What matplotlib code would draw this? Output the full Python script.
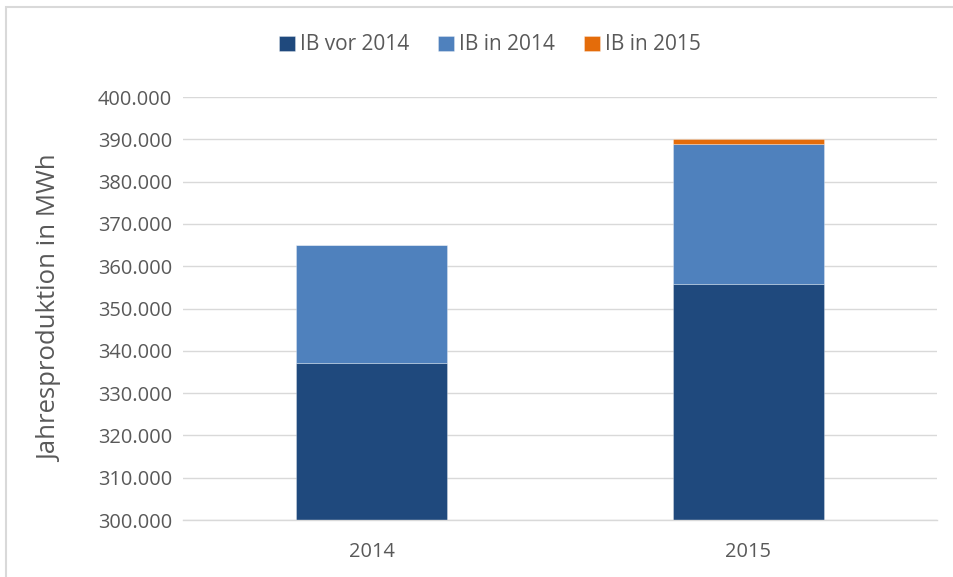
import matplotlib
matplotlib.use("Agg")
import matplotlib.pyplot as plt
from matplotlib.patches import Rectangle
import numpy as np

categories = ["2014", "2015"]
ib_vor_2014 = [337000, 355800]
ib_in_2014 = [28000, 33000]
ib_in_2015 = [0, 1200]
series_names = ["IB vor 2014", "IB in 2014", "IB in 2015"]
colors = ["#1F497D", "#4F81BD", "#E46C0A"]
yticks = list(range(300000, 400001, 10000))
ytick_labels = [f"{v:,}".replace(",", ".") for v in yticks]

plt.rcParams['font.family'] = ['Open Sans', 'DejaVu Sans']
txt = "#595959"

fig = plt.figure(figsize=(9.54, 5.77), dpi=100)
ax = fig.add_axes([183/954, 1-520/577, (937-183)/954, (520-97)/577])

x = np.arange(len(categories))
bottoms = [np.zeros(2), np.array(ib_vor_2014, float), np.array(ib_vor_2014, float) + np.array(ib_in_2014, float)]
for vals, b, c, n in zip([ib_vor_2014, ib_in_2014, ib_in_2015], bottoms, colors, series_names):
    ax.bar(x, vals, bottom=b, width=0.4, color=c, label=n, zorder=3,
           edgecolor=(1, 1, 1, 0.35), linewidth=0.6)

ax.set_xlim(-0.5, 1.5)
ax.set_ylim(300000, 400000)
ax.set_yticks(yticks)
ax.set_yticklabels(ytick_labels)
ax.set_xticks(x)
ax.set_xticklabels(categories)
ax.tick_params(axis='both', length=0, colors=txt, labelsize=14.4)
ax.tick_params(axis='y', pad=8)
ax.tick_params(axis='x', pad=16)
ax.grid(axis='y', color="#D9D9D9", linewidth=1, zorder=0)
for s in ["top", "right", "left"]:
    ax.spines[s].set_visible(False)
ax.spines["bottom"].set_color("#D9D9D9")
ax.spines["bottom"].set_linewidth(1)
ax.spines["bottom"].set_zorder(4)

ax.set_ylabel("Jahresproduktion in MWh", color=txt, fontsize=18.5, labelpad=25)

leg = fig.legend(loc="center", bbox_to_anchor=(490/954, 1-45/577), ncol=3, frameon=False,
                 fontsize=15, handlelength=0.75, handleheight=0.75, handletextpad=0.25,
                 columnspacing=1.4)
for t in leg.get_texts():
    t.set_color(txt)

fig.patches.append(Rectangle((6/954, -0.1), 1.2, 1 - 6.5/577 + 0.1, transform=fig.transFigure,
                             fill=False, edgecolor="#D9D9D9", linewidth=1.5))

fig.savefig("out.png", dpi=100)
